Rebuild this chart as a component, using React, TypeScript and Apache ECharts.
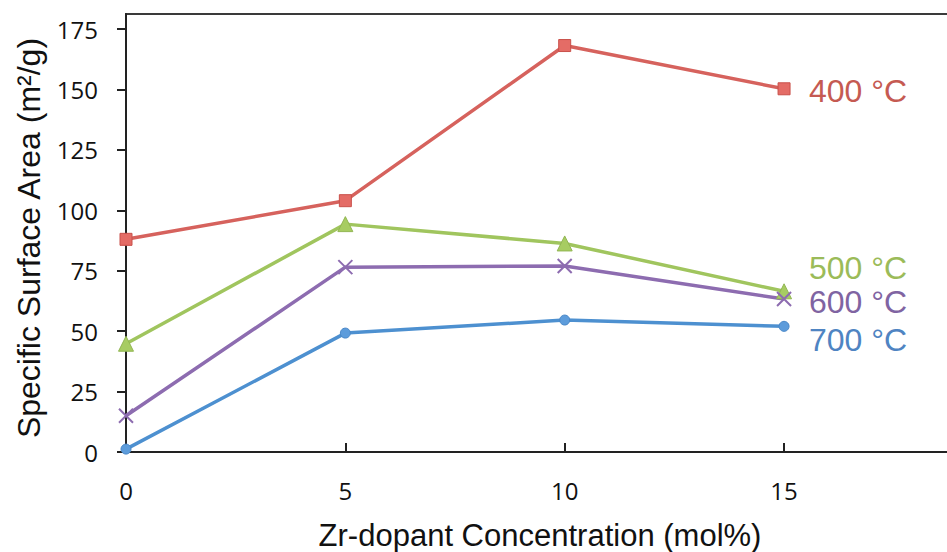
import React, { useEffect, useRef } from "react";
import * as echarts from "echarts";

const concentrations = [0, 5, 10, 15];
const s400 = [88, 104, 168.2, 150.3];
const s500 = [44.8, 94.3, 86.3, 66.5];
const s600 = [15, 76.5, 77, 63.3];
const s700 = [1.2, 49.2, 54.6, 52];
const seriesNames = ["400 °C", "500 °C", "600 °C", "700 °C"];
const yTicks = [0, 25, 50, 75, 100, 125, 150, 175];
const xTicks = [0, 5, 10, 15];

const pairs = (ys: number[]) => concentrations.map((x, i) => [x, ys[i]]);

export default function App() {
  const ref = useRef<HTMLDivElement>(null);
  useEffect(() => {
    if (!ref.current) return;
    const chart = echarts.init(ref.current, null, { renderer: "svg" });
    const numFont = "'Open Sans', sans-serif";
    const txtFont = "'Liberation Sans', Arial, sans-serif";
    const endLabel = (i: number, y: number, fill: string) => ({
      type: "text",
      x: 809,
      y,
      style: {
        text: seriesNames[i],
        fontSize: 32,
        fontFamily: txtFont,
        fill,
        verticalAlign: "middle",
      },
    });
    chart.setOption({
      animation: false,
      backgroundColor: "#ffffff",
      grid: {
        left: 126,
        top: 14,
        bottom: 100,
        right: 6.6,
        show: true,
        borderColor: "#3a3a3a",
        borderWidth: 2,
      },
      xAxis: {
        type: "value",
        min: 0,
        max: 20,
        splitLine: { show: false },
        axisLine: { lineStyle: { color: "#222", width: 2 } },
        axisTick: {
          inside: true,
          length: 9,
          customValues: xTicks,
          lineStyle: { color: "#222", width: 2 },
        },
        axisLabel: {
          customValues: xTicks,
          margin: 26,
          fontSize: 24,
          fontFamily: numFont,
          color: "#111",
        },
      },
      yAxis: {
        type: "value",
        min: 0,
        max: 181.25,
        splitLine: { show: false },
        axisLine: { lineStyle: { color: "#222", width: 2 } },
        axisTick: {
          length: 9,
          customValues: yTicks,
          lineStyle: { color: "#222", width: 2 },
        },
        axisLabel: {
          customValues: yTicks,
          margin: 28,
          fontSize: 24,
          fontFamily: numFont,
          color: "#111",
        },
      },
      series: [
        {
          name: seriesNames[0],
          type: "line",
          data: pairs(s400),
          symbol: "rect",
          symbolSize: 12,
          lineStyle: { color: "#D6625D", width: 3.5 },
          itemStyle: { color: "#E46C66", borderColor: "#C9504A", borderWidth: 1 },
        },
        {
          name: seriesNames[1],
          type: "line",
          data: pairs(s500),
          symbol: "triangle",
          symbolSize: 15,
          lineStyle: { color: "#A0C55E", width: 3.5 },
          itemStyle: { color: "#A7CC62", borderColor: "#92B653", borderWidth: 1 },
        },
        {
          name: seriesNames[2],
          type: "line",
          data: pairs(s600),
          symbol: "path://M0,0L10,10M10,0L0,10",
          symbolSize: 14,
          lineStyle: { color: "#8D6CB0", width: 3.5 },
          itemStyle: { color: "none", borderColor: "#8D6CB0", borderWidth: 2 },
        },
        {
          name: seriesNames[3],
          type: "line",
          data: pairs(s700),
          symbol: "circle",
          symbolSize: 10,
          lineStyle: { color: "#4D90D0", width: 3.5 },
          itemStyle: { color: "#5D9CDB", borderColor: "#4A88C8", borderWidth: 1 },
        },
      ],
      graphic: [
        {
          type: "text",
          x: 29,
          y: 238,
          rotation: Math.PI / 2,
          style: {
            text: "Specific Surface Area (m²/g)",
            fontSize: 32,
            fontFamily: txtFont,
            fill: "#111",
            align: "center",
            verticalAlign: "middle",
          },
        },
        {
          type: "text",
          x: 540,
          y: 535,
          style: {
            text: "Zr-dopant Concentration (mol%)",
            fontSize: 31,
            fontFamily: txtFont,
            fill: "#111",
            align: "center",
            verticalAlign: "middle",
          },
        },
        endLabel(0, 91, "#C55A52"),
        endLabel(1, 268, "#9BBB59"),
        endLabel(2, 302, "#8064A2"),
        endLabel(3, 340, "#4F84C2"),
      ],
    });
    return () => chart.dispose();
  }, []);
  return (
    <div style={{ width: 947, height: 552, position: "absolute", left: 0, top: 0, overflow: "hidden" }}>
      <div ref={ref} style={{ width: 1010, height: 552 }} />
    </div>
  );
}
